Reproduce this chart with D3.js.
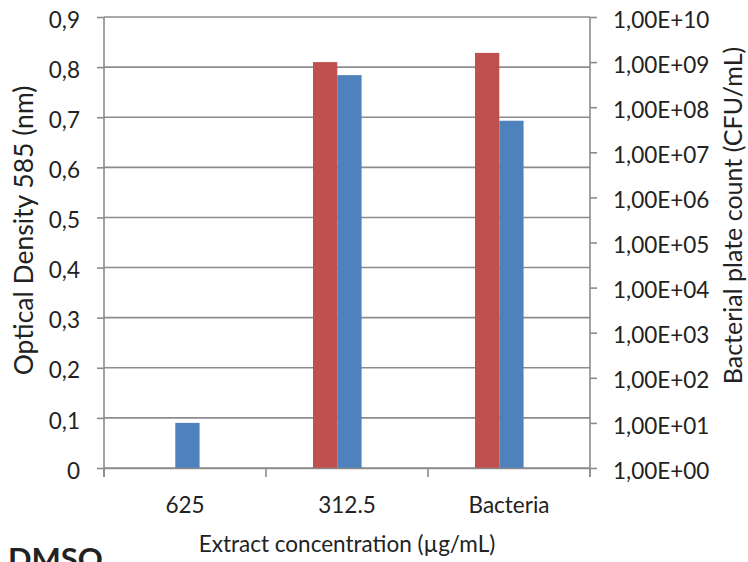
<!DOCTYPE html>
<html>
<head>
<meta charset="utf-8">
<script src="https://cdn.jsdelivr.net/npm/d3@7"></script>
<style>
  body { margin: 0; background: #fff; }
  text { font-family: Lato, "Open Sans", sans-serif; fill: #222; }
</style>
</head>
<body>
<div id="chart"></div>
<script>
// categories and series
const categories = ["625", "312.5", "Bacteria"];
const opticalDensity = [0.09, 0.784, 0.693];      // blue, left axis
const plateCount = [null, 1.0e9, 1.6e9];           // red, right (log) axis, none grew at 625
const odTicks = [0, 0.1, 0.2, 0.3, 0.4, 0.5, 0.6, 0.7, 0.8, 0.9];
const countTicks = [1e0, 1e1, 1e2, 1e3, 1e4, 1e5, 1e6, 1e7, 1e8, 1e9, 1e10];

let margin = {top: 17, right: 158, bottom: 94, left: 104},
    width = 748 - margin.left - margin.right,
    height = 562 - margin.top - margin.bottom;

let svg = d3.select("#chart")
    .append("svg")
    .attr("width", 748)
    .attr("height", 562)
    .append("g")
    .attr("transform", "translate(" + margin.left + "," + margin.top + ")");

let x = d3.scaleBand()
    .domain(categories)
    .range([0, width]);

// red sits left of the blue bar, blue is about centred in its band
let xs = d3.scaleBand()
    .domain(["count", "od"])
    .range([x.bandwidth() * 0.29, x.bandwidth() * 0.59]);

let y = d3.scaleLinear()
    .domain([0, 0.9])
    .range([height, 0]);

let y2 = d3.scaleLog()
    .domain([1, 1e10])
    .range([height, 0]);

const gray = "#8c8c8c";
const tickFont = "22.5px";

// gridlines
svg.append("g")
    .selectAll("line")
    .data(odTicks)
    .enter()
    .append("line")
    .attr("x1", 0)
    .attr("x2", width)
    .attr("y1", d => y(d))
    .attr("y2", d => y(d))
    .attr("stroke", gray)
    .attr("stroke-width", 1.6);

// bars
let groups = svg.append("g")
    .selectAll("g")
    .data(categories)
    .enter()
    .append("g")
    .attr("transform", d => "translate(" + x(d) + ",0)");

groups.filter((d, i) => plateCount[i] != null)
    .append("rect")
    .attr("x", xs("count"))
    .attr("width", xs.bandwidth())
    .attr("y", d => y2(plateCount[categories.indexOf(d)]))
    .attr("height", d => height - y2(plateCount[categories.indexOf(d)]))
    .style("fill", "#c0504d");

groups.append("rect")
    .attr("x", xs("od"))
    .attr("width", xs.bandwidth())
    .attr("y", (d, i) => y(opticalDensity[i]))
    .attr("height", (d, i) => height - y(opticalDensity[i]))
    .style("fill", "#4f81bd");

// left axis
let yAxis = svg.append("g")
    .call(d3.axisLeft(y).tickValues(odTicks).tickSize(7).tickPadding(17)
        .tickFormat(d => d3.format(".1~f")(d).replace(".", ",")));

// right axis
let y2Axis = svg.append("g")
    .attr("transform", "translate(" + width + ",0)")
    .call(d3.axisRight(y2).tickValues(countTicks).tickSize(7).tickPadding(16)
        .tickFormat(d => "1,00E+" + String(Math.round(Math.log10(d))).padStart(2, "0")));

// bottom axis, ticks between categories
let xAxis = svg.append("g")
    .attr("transform", "translate(0," + height + ")")
    .call(d3.axisBottom(x).tickSize(0).tickPadding(29));

xAxis.selectAll(".sep")
    .data(d3.range(categories.length + 1))
    .enter()
    .append("line")
    .attr("x1", i => i * x.step())
    .attr("x2", i => i * x.step())
    .attr("y1", 0)
    .attr("y2", 9)
    .attr("stroke", gray)
    .attr("stroke-width", 1.6);

[yAxis, y2Axis, xAxis].forEach(g => {
    g.select(".domain").attr("stroke", gray).attr("stroke-width", 1.6);
    g.selectAll(".tick line").attr("stroke", gray).attr("stroke-width", 1.6);
    g.selectAll(".tick text")
        .style("font-family", "Lato, 'Open Sans', sans-serif")
        .style("font-size", tickFont)
        .attr("fill", "#222");
});
yAxis.selectAll(".tick text").attr("dy", "0.45em");
y2Axis.selectAll(".tick text").attr("dy", "0.45em");
yAxis.select(".domain").attr("d", "M0," + (height + 9) + "V0");
y2Axis.select(".domain").attr("d", "M0," + (height + 9) + "V0");

// axis titles
svg.append("text")
    .attr("transform", "translate(" + (33 - margin.left) + "," + (height / 2 - 12) + ") rotate(-90)")
    .attr("text-anchor", "middle")
    .style("font-size", "26.5px")
    .text("Optical Density 585 (nm)");

svg.append("text")
    .attr("transform", "translate(" + (742 - margin.left) + "," + (height / 2 - 27) + ") rotate(-90)")
    .attr("text-anchor", "middle")
    .style("font-size", "25px")
    .text("Bacterial plate count (CFU/mL)");

svg.append("text")
    .attr("x", width / 2)
    .attr("y", 552 - margin.top)
    .attr("text-anchor", "middle")
    .style("font-size", tickFont)
    .text("Extract concentration (µg/mL)");

svg.append("text")
    .attr("x", 8 - margin.left)
    .attr("y", 570 - margin.top)
    .style("font-size", "31px")
    .style("font-weight", "bold")
    .attr("fill", "#111")
    .text("DMSO");
</script>
</body>
</html>
